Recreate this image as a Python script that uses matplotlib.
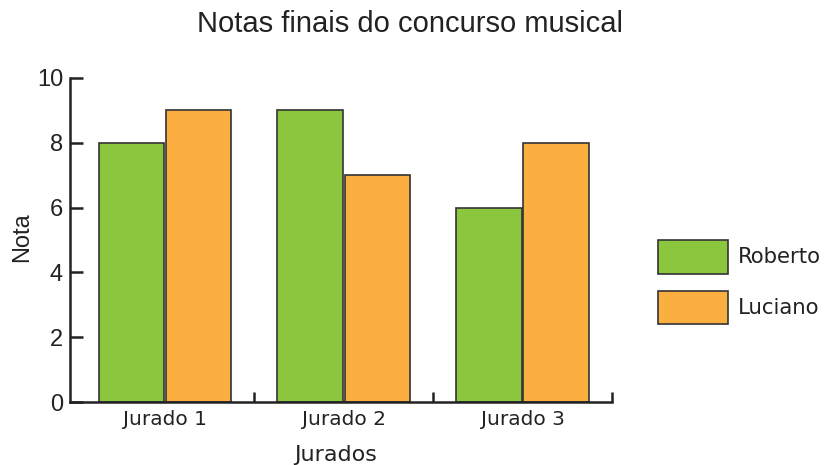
import matplotlib
matplotlib.use("Agg")
import matplotlib.pyplot as plt
import numpy as np

jurados = ["Jurado 1", "Jurado 2", "Jurado 3"]
roberto = [8, 9, 6]
luciano = [9, 7, 8]
series_names = ["Roberto", "Luciano"]
yticks = [0, 2, 4, 6, 8, 10]

green = "#8CC63F"
orange = "#FBAF41"
edge = "#333333"
txt = "#222222"

fig = plt.figure(figsize=(8.25, 4.65), dpi=100)
ax = fig.add_axes([70/825, 1-402/465, (612-70)/825, (402-78)/465])

x = np.arange(len(jurados))
w = 0.365
b1 = ax.bar(x - w/2 - 0.005, roberto, w, color=green, edgecolor=edge, linewidth=1.2, label=series_names[0])
b2 = ax.bar(x + w/2 + 0.005, luciano, w, color=orange, edgecolor=edge, linewidth=1.2, label=series_names[1])

ax.set_xlim(-0.53, 2.5)
ax.set_ylim(0, 10)
for s in ["top", "right"]:
    ax.spines[s].set_visible(False)
for s in ["left", "bottom"]:
    ax.spines[s].set_linewidth(1.8)
    ax.spines[s].set_color(txt)

ax.set_yticks(yticks)
ax.set_yticklabels([str(v) for v in yticks], fontsize=17, family="Liberation Sans", color=txt)
ax.tick_params(axis="y", direction="in", length=9, width=1.8, pad=5, color=txt)

ax.set_xticks(x)
ax.set_xticklabels(jurados, fontsize=14.5, family="DejaVu Sans", color=txt)
ax.tick_params(axis="x", which="major", length=0, pad=6)
ax.set_xticks([0.5, 1.5, 2.5], minor=True)
ax.tick_params(axis="x", which="minor", direction="in", length=7, width=1.8, color=txt)

fig.text(410/825, 1-24/465, "Notas finais do concurso musical", ha="center", va="center",
         fontsize=21, family="Liberation Sans", color=txt)
fig.text(22/825, 1-237/465, "Nota", ha="center", va="center", rotation=90,
         fontsize=17, family="Liberation Sans", color=txt)
fig.text(336/825, 1-455/465, "Jurados", ha="center", va="center",
         fontsize=16, family="DejaVu Sans", color=txt)

leg = fig.legend(handles=[b1, b2], labels=series_names, loc="upper left",
                 bbox_to_anchor=(658/825, 1-240/465), frameon=False,
                 handlelength=3.3, handleheight=2.05,
                 handletextpad=0.45, labelspacing=0.82, borderpad=0, borderaxespad=0,
                 prop={"family": "DejaVu Sans", "size": 15.3})
for t in leg.get_texts():
    t.set_color(txt)

fig.savefig("out.png", dpi=100)
